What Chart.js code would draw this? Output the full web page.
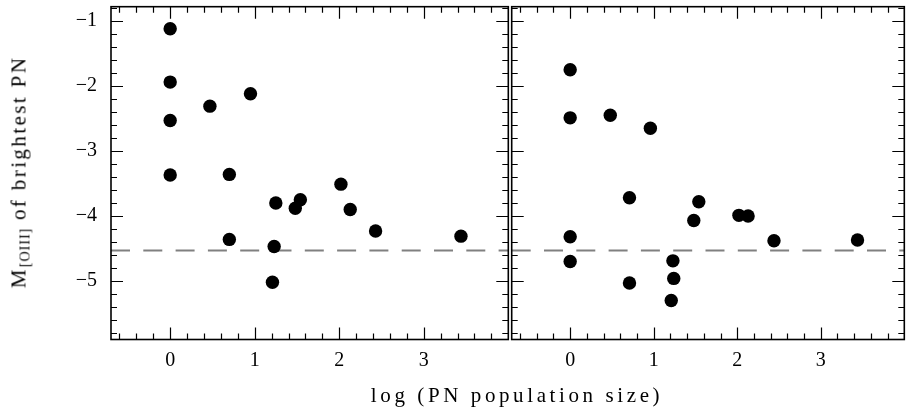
<!DOCTYPE html>
<html>
<head>
<meta charset="utf-8">
<script src="https://cdn.jsdelivr.net/npm/chart.js@4"></script>
<style>
  html, body { margin: 0; padding: 0; background: #fff; }
  #wrap { position: relative; width: 911px; height: 412px; overflow: hidden; }
  canvas { position: absolute; top: 0; }
  .ttl { position: absolute; font-family: "Liberation Serif", serif; font-size: 21px; line-height: 20px; color: #000; white-space: nowrap; }
  #xt { letter-spacing: 3.6px; }
  #yt { letter-spacing: 2.4px; }
  .ttl sub { font-size: 14px; vertical-align: -4px; letter-spacing: 1px; }
</style>
</head>
<body>
<div id="wrap">
  <canvas id="cL" width="515" height="412" style="left:0px"></canvas>
  <canvas id="cR" width="406" height="412" style="left:505px"></canvas>
  <div class="ttl" id="yt" style="left:22px; top:172px; transform: translate(-50%,-50%) rotate(-90deg);">M<sub>[OIII]</sub> of brightest PN</div>
  <div class="ttl" id="xt" style="left:517px; top:385px; transform: translateX(-50%);">log (PN population size)</div>
</div>
<script>
// ---- data ----
const leftLogN   = [0, 0, 0, 0, 0.47, 0.95, 0.70, 0.70, 1.25, 1.23, 1.21, 1.48, 1.54, 2.02, 2.13, 2.43, 3.44];
const leftMag    = [-1.12, -1.94, -2.53, -3.37, -2.31, -2.12, -3.36, -4.36, -3.80, -4.47, -5.02, -3.88, -3.75, -3.51, -3.90, -4.23, -4.31];
const rightLogN  = [0, 0, 0, 0, 0.48, 0.96, 0.71, 0.71, 1.23, 1.24, 1.21, 1.48, 1.54, 2.02, 2.13, 2.44, 3.44];
const rightMag   = [-1.75, -2.49, -4.32, -4.70, -2.45, -2.65, -3.72, -5.03, -4.69, -4.96, -5.30, -4.07, -3.78, -3.99, -4.00, -4.38, -4.37];
const cutoffMag  = -4.53;
const xTickVals  = [0, 1, 2, 3];
const yTickVals  = [-5, -4, -3, -2, -1];
const xRange     = [-0.7, 4.0];
const yRange     = [-5.9, -0.78];

const FONT = '"Liberation Serif", serif';
const fmt = v => (v < 0 ? '\u2212' + Math.abs(v) : String(v));

const framePlugin = {
  id: 'frame',
  afterDraw(chart) {
    const ctx = chart.ctx, a = chart.chartArea;
    const xs = chart.scales.x, ys = chart.scales.y;
    ctx.save();
    ctx.strokeStyle = '#000';
    ctx.lineWidth = 1.2;
    ctx.beginPath();
    const MAJ = 12, MIN = 6;
    for (let k = Math.ceil(xs.min * 5 + 1e-6); k <= Math.floor(xs.max * 5 - 1e-6); k++) {
      const v = k / 5, len = (k % 5 === 0) ? MAJ : MIN;
      const px = Math.round(xs.getPixelForValue(v)) + 0.5;
      ctx.moveTo(px, a.bottom); ctx.lineTo(px, a.bottom - len);
      ctx.moveTo(px, a.top); ctx.lineTo(px, a.top + len);
    }
    for (let k = Math.ceil(ys.min * 5 + 1e-6); k <= Math.floor(ys.max * 5 - 1e-6); k++) {
      const v = k / 5, len = (k % 5 === 0) ? MAJ : MIN;
      const py = Math.round(ys.getPixelForValue(v)) + 0.5;
      ctx.moveTo(a.left, py); ctx.lineTo(a.left + len, py);
      ctx.moveTo(a.right, py); ctx.lineTo(a.right - len, py);
    }
    ctx.stroke();
    ctx.lineWidth = 1.6;
    ctx.strokeRect(a.left, a.top, a.right - a.left, a.bottom - a.top);
    ctx.restore();
  }
};

function makePanel(id, xs, ys, showYLabels, padRight, yAxisWidth) {
  const pts = xs.map((x, i) => ({ x: x, y: ys[i] }));
  return new Chart(document.getElementById(id), {
    type: 'scatter',
    data: {
      datasets: [
        {
          type: 'line',
          data: [{ x: xRange[0], y: cutoffMag }, { x: xRange[1], y: cutoffMag }],
          borderColor: '#808080',
          borderWidth: 2,
          borderDash: [19, 13.3],
          pointRadius: 0,
          fill: false,
          order: 2
        },
        {
          data: pts,
          backgroundColor: '#000',
          borderWidth: 0,
          pointRadius: 6.7,
          pointHoverRadius: 6.7,
          order: 1
        }
      ]
    },
    options: {
      responsive: false,
      animation: false,
      devicePixelRatio: 1,
      layout: { padding: { top: 4, right: padRight, left: 0, bottom: 0 } },
      plugins: { legend: { display: false }, tooltip: { enabled: false } },
      scales: {
        x: {
          type: 'linear',
          min: xRange[0], max: xRange[1],
          grid: { display: false, drawTicks: false },
          border: { display: false },
          afterBuildTicks: s => { s.ticks = xTickVals.map(v => ({ value: v })); },
          afterFit: s => { s.height = 412 - 339.5; s.paddingLeft = 0; s.paddingRight = 0; },
          ticks: { color: '#000', padding: 9, maxRotation: 0, font: { family: FONT, size: 20 }, callback: v => fmt(v) }
        },
        y: {
          type: 'linear',
          min: yRange[0], max: yRange[1],
          grid: { display: false, drawTicks: false },
          border: { display: false },
          afterBuildTicks: s => { s.ticks = yTickVals.map(v => ({ value: v })); },
          afterFit: s => { s.width = yAxisWidth; s.paddingTop = 0; s.paddingBottom = 0; },
          ticks: { display: showYLabels, color: '#000', padding: 14, font: { family: FONT, size: 20 }, callback: v => fmt(v) }
        }
      }
    },
    plugins: [framePlugin]
  });
}

makePanel('cL', leftLogN, leftMag, true, 5, 111);
makePanel('cR', rightLogN, rightMag, false, 2, 5);
</script>
</body>
</html>
